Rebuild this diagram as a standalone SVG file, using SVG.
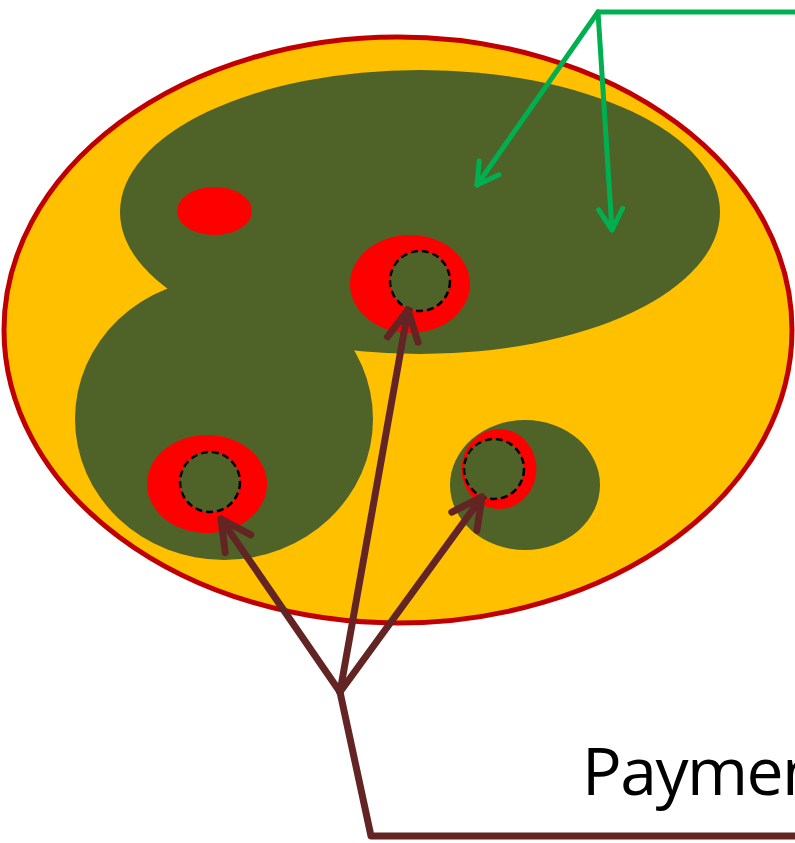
<svg xmlns="http://www.w3.org/2000/svg" width="795" height="843" viewBox="0 0 795 843">
<style>
.green{fill:#4F6228}
.red{fill:#FF0000}
.dash{fill:none;stroke:#000;stroke-width:2.5;stroke-dasharray:7 4}
.brown{fill:none;stroke:#632523;stroke-width:7;stroke-linecap:round;stroke-linejoin:round}
.gline{fill:none;stroke:#00B050;stroke-width:5;stroke-linecap:round;stroke-linejoin:round}
.label{font-family:"Open Sans","Liberation Sans",sans-serif;font-size:66px;letter-spacing:-1.5px;fill:#000}
</style>
<defs>
<marker id="bh" markerUnits="userSpaceOnUse" markerWidth="60" markerHeight="60" refX="0" refY="0" viewBox="-40 -30 50 60" orient="auto" overflow="visible">
<path d="M-30,-15.5 L0,0 L-30,15.5" fill="none" stroke="#632523" stroke-width="7" stroke-linecap="round" stroke-linejoin="round"/>
</marker>
<marker id="gh" markerUnits="userSpaceOnUse" markerWidth="40" markerHeight="40" refX="0" refY="0" viewBox="-30 -20 40 40" orient="auto" overflow="visible">
<path d="M-21,-12 L0,0 L-21,12" fill="none" stroke="#00B050" stroke-width="5" stroke-linecap="round" stroke-linejoin="round"/>
</marker>
</defs>
<g id="outer">
<ellipse cx="398" cy="330" rx="394" ry="293" fill="#FFC000" stroke="#C00000" stroke-width="5"/>
</g>
<g id="region">
<ellipse class="green" cx="420" cy="212" rx="300" ry="142"/>
<ellipse class="green" cx="224" cy="419" rx="149" ry="141"/>
</g>
<g id="small-region">
<ellipse class="green" cx="525" cy="485" rx="75" ry="65"/>
</g>
<g id="spot">
<ellipse class="red" cx="214.5" cy="211" rx="37.5" ry="24"/>
</g>
<g id="node-top">
<ellipse class="red" cx="410" cy="284" rx="60" ry="49"/>
<circle class="green" cx="420" cy="281" r="30"/>
<circle class="dash" cx="420" cy="281" r="30"/>
</g>
<g id="node-left">
<ellipse class="red" cx="207" cy="484" rx="60" ry="49"/>
<circle class="green" cx="210" cy="482" r="30"/>
<circle class="dash" cx="210" cy="482" r="30"/>
</g>
<g id="node-right">
<ellipse class="red" cx="499" cy="469" rx="37.5" ry="40"/>
<circle class="green" cx="494" cy="469" r="30"/>
<circle class="dash" cx="494" cy="469" r="30"/>
</g>
<g id="connectors">
<polyline class="gline" points="798,12 598,12" style="stroke-linecap:butt"/>
<line class="gline" x1="598" y1="12" x2="477" y2="185" marker-end="url(#gh)"/>
<line class="gline" x1="598" y1="12" x2="612" y2="230" marker-end="url(#gh)"/>
<polyline class="brown" points="798,836 371,836 340,692" style="stroke-linecap:butt"/>
<line class="brown" x1="340" y1="692" x2="408" y2="310" marker-end="url(#bh)"/>
<line class="brown" x1="340" y1="692" x2="221" y2="519" marker-end="url(#bh)"/>
<line class="brown" x1="340" y1="692" x2="482" y2="497" marker-end="url(#bh)"/>
</g>
<g id="label">
<text class="label" x="582" y="795">Paymen</text>
</g>
</svg>
